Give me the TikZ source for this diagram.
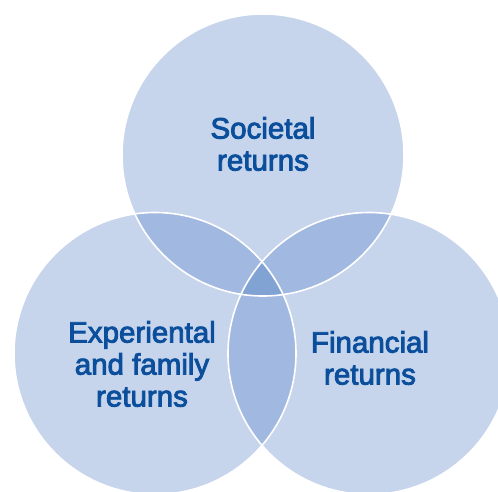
\documentclass[tikz,border=0pt]{standalone}
\usepackage{fontspec}
\newfontfamily\lblfont{Liberation Sans}[FakeBold=3]
\definecolor{base}{HTML}{C6D4EC}
\definecolor{dbl}{HTML}{A1B9E0}
\definecolor{trp}{HTML}{80A3D4}
\definecolor{txt}{HTML}{0B4F9C}
\tikzset{
  lbl/.style={text=txt, font=\lblfont\fontsize{29.5}{32}\selectfont, align=center, inner sep=0pt},
  rim/.style={draw=white, line width=1.6pt}
}
\begin{document}
\begin{tikzpicture}[x=1pt,y=-1pt]
\useasboundingbox (0,0) rectangle (498,491);
\clip (0,0) rectangle (498,491);
\coordinate (T) at (263,155);
\coordinate (L) at (155,353.5);
\coordinate (R) at (369,353.5);
\def\rr{141pt}
\fill[base] (T) circle (\rr);
\fill[base] (L) circle (\rr);
\fill[base] (R) circle (\rr);
\begin{scope}
  \clip (T) circle (\rr);
  \fill[dbl] (L) circle (\rr);
  \fill[dbl] (R) circle (\rr);
  \clip (L) circle (\rr);
  \fill[trp] (R) circle (\rr);
\end{scope}
\begin{scope}
  \clip (L) circle (\rr);
  \fill[dbl] (R) circle (\rr);
  \clip (T) circle (\rr);
  \fill[trp] (R) circle (\rr);
\end{scope}
\draw[rim] (T) circle (\rr);
\draw[rim] (L) circle (\rr);
\draw[rim] (R) circle (\rr);
\node[lbl] (soc) at (263,144) {Societal\\returns};
\node[lbl] (exp) at (142,364) {Experiental\\and family\\returns};
\node[lbl] (fin) at (370,358) {Financial\\returns};
\end{tikzpicture}
\end{document}
